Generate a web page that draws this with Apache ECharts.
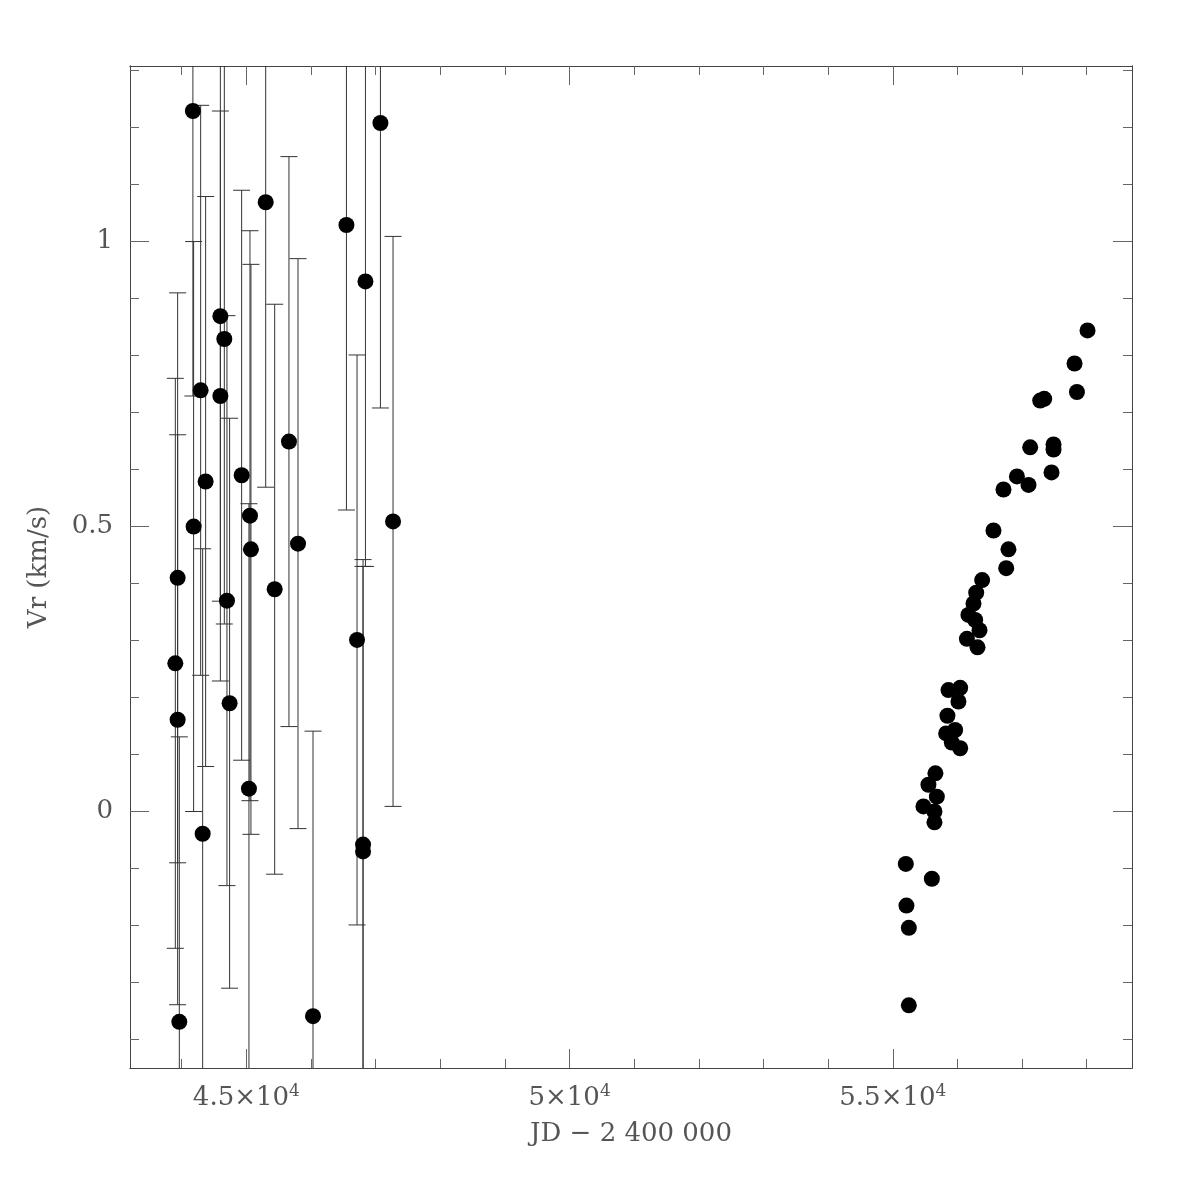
<!DOCTYPE html>
<html>
<head>
<meta charset="utf-8">
<script src="https://cdn.jsdelivr.net/npm/echarts@6/dist/echarts.min.js"></script>
<style>html,body{margin:0;padding:0;background:#fff}#c{width:1196px;height:1196px}</style>
</head>
<body>
<div id="c"></div>
<script>
// ---- data ----
const leftJD  = [44173, 43901, 43937, 43937, 43963, 44184, 44293, 44324, 44370, 44598,
                 44598, 44659, 44700, 44741, 44927, 45056, 45071, 45040, 45299, 45438,
                 45659, 45799, 46031, 46548, 46712, 46842, 46805, 46805, 47074, 47269];
const leftVr  = [1.229, 0.260, 0.410, 0.161, -0.369, 0.500, 0.739, -0.039, 0.579, 0.869,
                 0.729, 0.829, 0.370, 0.190, 0.590, 0.519, 0.460, 0.040, 1.069, 0.390,
                 0.649, 0.470, -0.359, 1.029, 0.301, 0.930, -0.058, -0.070, 1.208, 0.509];
const leftErr = [0.5, 0.5, 0.5, 0.5, 0.5, 0.5, 0.5, 0.5, 0.5, 0.5,
                 0.5, 0.5, 0.5, 0.5, 0.5, 0.5, 0.5, 0.5, 0.5, 0.5,
                 0.5, 0.5, 0.5, 0.5, 0.5, 0.5, 0.5, 0.5, 0.5, 0.5];

const rightJD = [58012, 57811, 57848, 57280, 57342, 57125, 57486, 57486, 57455, 56920,
                 57099, 56712, 56557, 56789, 56754, 56382, 56290, 56248, 56170, 56274,
                 56146, 56341, 56310, 55861, 56042, 56015, 55845, 55964, 55825, 55913,
                 56042, 55659, 55551, 55681, 55474, 55644, 55644, 55201, 55604, 55211,
                 55248, 55248];
const rightVr = [0.844, 0.786, 0.736, 0.721, 0.724, 0.639, 0.644, 0.635, 0.595, 0.588,
                 0.573, 0.565, 0.493, 0.460, 0.427, 0.406, 0.384, 0.365, 0.345, 0.336,
                 0.303, 0.318, 0.288, 0.213, 0.217, 0.193, 0.168, 0.143, 0.137, 0.121,
                 0.111, 0.067, 0.047, 0.026, 0.009, 0.000, -0.019, -0.092, -0.118, -0.165,
                 -0.204, -0.340];

const xMajor = [45000, 50000, 55000];
const xMinor = [44000, 46000, 47000, 48000, 49000, 51000, 52000, 53000, 54000, 56000, 57000, 58000];
const xTickLabels = ['4.5×10^4', '5×10^4', '5.5×10^4'];
const yMajor = [0, 0.5, 1];
const yMinor = [-0.4, -0.3, -0.2, -0.1, 0.1, 0.2, 0.3, 0.4, 0.6, 0.7, 0.8, 0.9, 1.1, 1.2, 1.3];
const yTickLabels = ['0', '0.5', '1'];
const xTitle = 'JD − 2 400 000';
const yTitle = 'Vr (km/s)';

// ---- chart ----
const FONT = 'DejaVu Serif';
const TXT = '#555';
const AX = '#444';
const X_MIN = 43200, X_MAX = 58700, Y_MIN = -0.45, Y_MAX = 1.308;

function xAx(pos, major, withLabel) {
  const o = {
    type: 'value', position: pos, min: X_MIN, max: X_MAX,
    axisLine: { show: true, onZero: false, lineStyle: { color: AX, width: 1 } },
    axisTick: { show: true, inside: true, length: major ? 19 : 9, customValues: major ? xMajor : xMinor,
                lineStyle: { color: '#666', width: 1 } },
    axisLabel: { show: false },
    splitLine: { show: false }
  };
  if (withLabel) {
    o.axisLabel = {
      show: true, customValues: xMajor, margin: 15,
      formatter: function (v) {
        const i = xMajor.indexOf(v);
        if (i < 0) return '';
        const parts = xTickLabels[i].split('^');
        return '{b|' + parts[0] + '}{s|' + parts[1] + '}';
      },
      rich: {
        b: { fontFamily: FONT, fontSize: 26, color: TXT, lineHeight: 30 },
        s: { fontFamily: FONT, fontSize: 17, color: TXT, lineHeight: 16, verticalAlign: 'top' }
      }
    };
    o.name = xTitle;
    o.nameLocation = 'middle';
    o.nameGap = 53;
    o.nameTextStyle = { fontFamily: FONT, fontSize: 26, color: TXT };
  }
  return o;
}
function yAx(pos, major, withLabel) {
  const o = {
    type: 'value', position: pos, min: Y_MIN, max: Y_MAX,
    axisLine: { show: true, onZero: false, lineStyle: { color: AX, width: 1 } },
    axisTick: { show: true, inside: true, length: major ? 19 : 9, customValues: major ? yMajor : yMinor,
                lineStyle: { color: '#666', width: 1 } },
    axisLabel: { show: false },
    splitLine: { show: false }
  };
  if (withLabel) {
    o.axisLabel = {
      show: true, customValues: yMajor, margin: 17,
      fontFamily: FONT, fontSize: 26, color: TXT,
      formatter: function (v) {
        const i = yMajor.indexOf(v);
        return i < 0 ? '' : yTickLabels[i];
      }
    };
    o.name = yTitle;
    o.nameLocation = 'middle';
    o.nameGap = 78;
    o.nameRotate = 90;
    o.nameTextStyle = { fontFamily: FONT, fontSize: 26, color: TXT };
  }
  return o;
}

const errData = leftJD.map((x, i) => [x, leftVr[i] - leftErr[i], leftVr[i] + leftErr[i]]);

const chart = echarts.init(document.getElementById('c'), null, { renderer: 'canvas' });
chart.setOption({
  animation: false,
  backgroundColor: '#fff',
  grid: { left: 130, top: 66, right: 64, bottom: 128, containLabel: false },
  xAxis: [xAx('bottom', true, true), xAx('bottom', false, false), xAx('top', true, false), xAx('top', false, false)],
  yAxis: [yAx('left', true, true), yAx('left', false, false), yAx('right', true, false), yAx('right', false, false)],
  series: [
    {
      type: 'custom', xAxisIndex: 0, yAxisIndex: 0, clip: true,
      data: errData,
      encode: { x: 0, y: [1, 2] },
      renderItem: function (params, api) {
        const x = api.value(0);
        const top = api.coord([x, api.value(2)]);
        const bot = api.coord([x, api.value(1)]);
        const w = 8.5;
        const st = { stroke: '#333', lineWidth: 1 };
        return {
          type: 'group',
          children: [
            { type: 'line', shape: { x1: top[0], y1: top[1], x2: bot[0], y2: bot[1] }, style: st },
            { type: 'line', shape: { x1: top[0] - w, y1: top[1], x2: top[0] + w, y2: top[1] }, style: st },
            { type: 'line', shape: { x1: bot[0] - w, y1: bot[1], x2: bot[0] + w, y2: bot[1] }, style: st }
          ]
        };
      },
      z: 1
    },
    {
      type: 'scatter', xAxisIndex: 0, yAxisIndex: 0, symbol: 'circle', symbolSize: 16,
      itemStyle: { color: '#000', opacity: 1 },
      data: leftJD.map((x, i) => [x, leftVr[i]]), z: 3
    },
    {
      type: 'scatter', xAxisIndex: 0, yAxisIndex: 0, symbol: 'circle', symbolSize: 16,
      itemStyle: { color: '#000', opacity: 1 },
      data: rightJD.map((x, i) => [x, rightVr[i]]), z: 3
    }
  ]
});
</script>
</body>
</html>
